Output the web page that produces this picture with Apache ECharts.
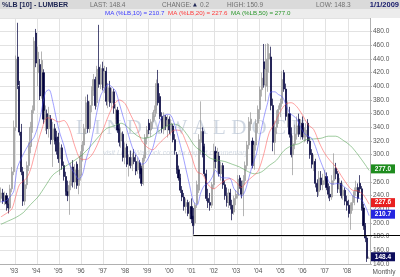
<!DOCTYPE html>
<html><head><meta charset="utf-8">
<script src="https://cdn.jsdelivr.net/npm/echarts@6/dist/echarts.min.js"></script>
<style>html,body{margin:0;padding:0;background:#fff}#c{width:400px;height:277px}</style>
</head><body><div id="c"></div>
<script>
// ---- categories: monthly, Jun 1992 .. Jan 2009 ----
const startYear = 1992, startMonth = 6, monthCount = 200;
const categories = [];
for (let k = 0; k < monthCount; k++) {
  const m0 = startMonth - 1 + k;
  categories.push((startYear + Math.floor(m0 / 12)) + '-' + String(m0 % 12 + 1).padStart(2, '0'));
}

// ---- monthly OHLC ----
const open = [
236,244,232,240,228,222,250,275,340,443,
400,333,275,232,256,284,312,340,365,478,
420,432,386,420,352,360,338,352,322,338,
325,326,294,310,284,268,246,240,255,282,
260,286,255,270,298,314,338,378,338,372,
394,410,376,428,403,426,398,422,378,398,
376,392,352,365,338,320,330,296,312,286,
296,284,296,290,278,288,280,258,295,325,
346,336,348,356,365,404,385,356,336,355,
342,352,334,342,322,300,278,266,248,238,
224,230,214,224,210,200,228,248,318,334,
312,272,236,230,226,256,305,290,298,272,
284,256,240,230,244,226,216,236,240,266,
254,242,262,284,314,345,320,284,314,346,
366,395,436,402,400,440,443,372,318,340,
356,366,375,420,396,356,360,330,300,316,
330,352,330,346,326,326,346,320,302,286,
290,258,246,266,256,262,268,252,242,238,
262,280,272,250,258,240,248,232,226,214,
226,230,246,252,258,250,222,196,178,148.3];
const high = [
252,250,246,244,236,256,282,350,445,493,
408,345,282,262,290,318,348,372,472,484,
458,440,451,425,372,366,370,358,348,345,
335,332,318,315,290,275,262,262,288,292,
286,290,278,305,320,345,385,388,378,400,
418,414,430,490,432,436,430,428,405,408,
398,396,374,370,345,340,334,318,316,300,
306,302,308,300,296,292,284,300,330,342,
352,352,362,372,410,424,390,362,362,358,
358,356,352,345,330,304,284,272,254,244,
236,234,232,236,222,230,262,330,378,340,
316,278,250,244,260,316,312,310,304,290,
288,262,252,250,250,234,240,248,270,270,
262,270,290,320,355,362,325,320,352,372,
400,420,462,462,463,462,458,382,350,365,
372,382,422,424,404,378,370,340,328,344,
356,360,352,356,340,346,352,326,308,300,
294,264,276,276,272,278,274,258,254,270,
302,288,276,266,262,258,252,240,234,230,
240,252,262,258,270,254,228,200,182,150.9];
const low = [
230,228,226,218,214,220,245,270,335,396,
328,270,225,226,250,276,302,332,360,428,
400,380,382,345,335,330,325,315,282,315,
300,288,270,278,262,240,232,212,248,252,
250,250,242,262,290,305,330,332,332,362,
386,366,370,398,396,394,390,372,368,370,
368,360,345,332,312,310,290,286,282,268,
280,276,286,270,272,265,254,255,290,315,
330,326,338,350,360,372,352,332,330,336,
325,330,328,318,300,272,262,244,232,218,
214,210,206,200,183,196,222,244,300,296,
268,232,222,218,222,250,280,274,268,262,
250,234,224,222,220,204,212,226,236,250,
236,210,256,278,308,335,280,278,306,332,
352,385,398,378,392,420,365,305,300,330,
345,355,370,392,350,340,325,296,270,308,
322,326,322,322,318,320,316,294,280,276,
252,238,240,248,248,256,248,236,232,234,
256,264,244,244,236,234,226,218,208,190,
218,226,240,230,244,218,190,172,143,148.3];
const close = [
244,232,240,228,222,250,275,340,440,402,
333,275,232,256,284,312,340,365,466,434,
450,386,438,352,364,338,358,322,338,320,
305,294,310,284,268,246,240,255,282,260,
278,255,270,298,314,338,376,338,372,394,
410,372,425,403,426,398,422,378,398,376,
392,368,366,336,318,332,296,310,286,296,
284,296,290,276,290,272,258,295,325,336,
336,348,356,365,404,376,356,338,358,342,
350,336,346,322,306,278,266,248,238,224,
230,214,224,206,196,226,256,322,334,300,
272,236,230,226,256,305,290,302,272,284,
256,240,230,244,226,214,236,242,264,254,
242,262,284,314,348,352,284,314,346,366,
395,412,402,425,440,448,372,318,340,356,
366,375,410,396,356,360,330,300,316,330,
342,330,340,326,332,336,320,300,286,290,
258,246,266,256,262,268,252,242,238,262,
280,272,250,258,240,248,232,226,214,226,
230,246,252,236,250,222,196,178,148.2,148.4];

// ---- moving averages ----
const ma10 = [['1992-06',231],['1992-09',233],['1992-12',242],['1993-01',247],['1993-02',266],['1993-03',282],['1993-06',300],['1993-09',315],['1993-12',326],['1994-03',352],['1994-06',391],['1994-08',395],['1994-10',378],['1994-12',352],['1995-02',330],['1995-04',314],['1995-06',293],['1995-08',280],['1995-10',272],['1995-12',264],['1996-02',270],['1996-04',293],['1996-06',310],['1996-08',336],['1996-10',364],['1996-12',387],['1997-02',396],['1997-04',403],['1997-06',399],['1997-08',393],['1997-10',375],['1997-12',356],['1998-02',338],['1998-04',319],['1998-06',304],['1998-08',296],['1998-10',286],['1998-12',288],['1999-02',297],['1999-04',309],['1999-06',330],['1999-08',350],['1999-10',357],['1999-12',359],['2000-02',357],['2000-04',343],['2000-06',324],['2000-08',303],['2000-10',279],['2000-12',255],['2001-02',232],['2001-04',226],['2001-06',244],['2001-08',255],['2001-10',258],['2001-12',266],['2002-02',277],['2002-04',269],['2002-06',266],['2002-08',266],['2002-10',265],['2002-12',250],['2003-02',244],['2003-04',239],['2003-06',247],['2003-08',266],['2003-10',285],['2003-12',300],['2004-02',327],['2004-04',353],['2004-06',374],['2004-08',392],['2004-10',392],['2004-12',388],['2005-02',385],['2005-04',374],['2005-06',361],['2005-08',357],['2005-10',352],['2005-12',340],['2006-02',331],['2006-04',327],['2006-06',324],['2006-08',312],['2006-10',296],['2006-12',282],['2007-02',268],['2007-04',258],['2007-06',257],['2007-08',258],['2007-10',256],['2007-12',252],['2008-02',248],['2008-04',240],['2008-06',237],['2008-08',236],['2008-10',230],['2008-12',218],['2009-01',210.7]];
const ma20 = [['1992-06',209],['1992-10',216],['1992-12',221],['1993-02',239],['1993-04',256],['1993-06',261],['1993-08',266],['1993-10',278],['1993-12',298],['1994-01',308],['1994-04',336],['1994-07',354],['1994-10',352],['1995-01',348],['1995-04',350],['1995-07',338],['1995-10',312],['1996-01',294],['1996-04',293],['1996-07',299],['1996-10',314],['1997-01',335],['1997-04',356],['1997-07',373],['1997-10',380],['1998-01',375],['1998-04',359],['1998-07',342],['1998-10',321],['1999-01',311],['1999-04',307],['1999-07',315],['1999-10',323],['2000-01',330],['2000-04',336],['2000-07',335],['2000-10',319],['2001-01',298],['2001-04',275],['2001-07',271],['2001-10',256],['2002-01',250],['2002-04',256],['2002-07',262],['2002-10',265],['2003-01',260],['2003-04',252],['2003-07',261],['2003-10',268],['2004-01',276],['2004-04',300],['2004-07',332],['2004-10',346],['2005-01',363],['2005-04',374],['2005-07',376],['2005-10',370],['2006-01',358],['2006-04',344],['2006-07',337],['2006-10',318],['2007-01',302],['2007-04',291],['2007-07',282],['2007-10',269],['2008-01',257],['2008-04',248],['2008-07',247],['2008-10',241],['2009-01',227.6]];
const ma50 = [['1992-06',198],['1992-10',203],['1993-02',208],['1993-06',215],['1993-10',227],['1994-02',238],['1994-06',254],['1994-10',270],['1995-02',278],['1995-06',285],['1995-10',292],['1996-02',300],['1996-06',311],['1996-11',327],['1997-03',338],['1997-07',342],['1997-11',346],['1998-03',339],['1998-07',329],['1998-11',324],['1999-03',326],['1999-07',334],['1999-11',341],['2000-03',345],['2000-07',341],['2000-11',328],['2001-03',312],['2001-07',304],['2001-11',295],['2002-03',292],['2002-07',290],['2002-11',286],['2003-03',282],['2003-07',276],['2003-11',272],['2004-03',275],['2004-07',284],['2004-11',292],['2005-03',306],['2005-07',313],['2005-11',316],['2006-03',322],['2006-07',323],['2006-11',324],['2007-03',327],['2007-07',327],['2007-11',321],['2008-03',313],['2008-07',300],['2008-11',285],['2009-01',277]];

// ---- y-axis ticks, header texts, tags ----
const yMin = 140, yMax = 500, yStep = 20;
const yearLabelMonth = '01';
const supportLevel = 182, supportStart = '2001-02';
const headerTitle = '%LB [10] - LUMBER';
const headerStats = { last: '148.4', change: '0.2', high: '150.9', low: '148.3', date: '1/1/2009' };
const maLegend = [['MA (%LB,10) = 210.7', '#3a3aff'], ['MA (%LB,20) = 227.6', '#ff3a3a'], ['MA (%LB,50) = 277.0', '#2a962a']];
const valueTags = [[277.0, '#1e8c1e'], [227.6, '#e82020'], [210.7, '#2424e0'], [148.4, '#0c0c5c']];

const chart = echarts.init(document.getElementById('c'), null, { renderer: 'canvas' });
const ohlc = categories.map((c, i) => [open[i], close[i], low[i], high[i]]);
const lastIdx = categories.length - 1;
const FONT = 'Liberation Sans';

chart.setOption({
  animation: false,
  textStyle: { fontFamily: FONT },
  grid: { left: 0, right: 30, top: 18, bottom: 13 },
  xAxis: {
    type: 'category', data: categories, boundaryGap: true,
    axisLine: { lineStyle: { color: '#b0b0b0' } },
    axisTick: { show: false },
    axisLabel: {
      interval: (i, v) => v.endsWith('-' + yearLabelMonth) && i !== lastIdx,
      formatter: v => "'" + v.slice(2, 4), fontSize: 6.5, color: '#555', margin: 4, fontFamily: FONT
    },
    splitLine: { show: true, interval: (i, v) => v.endsWith('-02'), lineStyle: { color: '#e2e2e2', width: 1 } }
  },
  yAxis: {
    type: 'value', position: 'right', min: yMin, max: yMax, interval: yStep,
    axisLine: { show: true, lineStyle: { color: '#b0b0b0' } },
    axisTick: { show: true, length: 2, lineStyle: { color: '#b0b0b0' } },
    axisLabel: { formatter: v => v.toFixed(1), fontSize: 6.5, color: '#555', margin: 3, showMaxLabel: false, fontFamily: FONT },
    splitLine: { lineStyle: { color: '#e2e2e2', width: 1 } }
  },
  series: [
    { type: 'candlestick', data: ohlc, barWidth: '88%', z: 3,
      itemStyle: { color: '#bcbcbc', color0: '#00003c', borderColor: '#959595', borderColor0: '#00003c', borderWidth: 0.7 } },
    { type: 'line', data: ma50, smooth: 0.3, symbol: 'none', z: 4, lineStyle: { color: '#4a9e4a', width: 0.6, opacity: 0.9 } },
    { type: 'line', data: ma20, smooth: 0.3, symbol: 'none', z: 4, lineStyle: { color: '#ff5050', width: 0.6, opacity: 0.9 } },
    { type: 'line', data: ma10, smooth: 0.3, symbol: 'none', z: 4, lineStyle: { color: '#5050ff', width: 0.6, opacity: 0.9 } }
  ]
});

const supX = chart.convertToPixel({ xAxisIndex: 0 }, supportStart);
const supY = Math.round(chart.convertToPixel({ yAxisIndex: 0 }, supportLevel)) + 0.5;

const g = [];
// watermark
g.push({ type: 'text', z: 1, left: 76, top: 118, style: { text: 'L I N D A W A L D O C K', font: '21px "Liberation Serif"', fill: 'rgba(160,176,198,0.5)' } });
g.push({ type: 'text', z: 1, left: 103, top: 150, style: { text: 'visit LindaWaldock.com for expert commentary', font: 'italic 7px "Liberation Sans"', fill: 'rgba(170,184,204,0.5)' } });
// support line
g.push({ type: 'line', z: 50, shape: { x1: supX, y1: supY, x2: 400, y2: supY }, style: { stroke: '#000', lineWidth: 1 } });
// header bands
g.push({ type: 'rect', z: 90, shape: { x: 0, y: 0, width: 400, height: 9 }, style: { fill: '#dadada' } });
g.push({ type: 'rect', z: 90, shape: { x: 0, y: 9, width: 400, height: 9 }, style: { fill: '#ececec' } });
const T = (x, y, text, font, fill, align) => ({ type: 'text', z: 99, x: x, y: y,
  style: { text: text, font: font, fill: fill, textAlign: align || 'left', textVerticalAlign: 'middle' } });
g.push(T(2, 5, headerTitle, 'bold 7px "Liberation Sans"', '#1c2452'));
g.push(T(90, 5, 'LAST: ' + headerStats.last, '6.5px "Liberation Sans"', '#707070'));
g.push(T(162, 5, 'CHANGE:', '6.5px "Liberation Sans"', '#707070'));
g.push(T(193, 4.5, '\u25B2', '5px "DejaVu Sans"', '#1c2452'));
g.push(T(200, 5, headerStats.change, '6.5px "Liberation Sans"', '#707070'));
g.push(T(227, 5, 'HIGH: ' + headerStats.high, '6.5px "Liberation Sans"', '#707070'));
g.push(T(316, 5, 'LOW: ' + headerStats.low, '6.5px "Liberation Sans"', '#707070'));
g.push(T(399, 5, headerStats.date, 'bold 7.5px "Liberation Sans"', '#161a6a', 'right'));
const legendX = [105, 168, 231];
maLegend.forEach((m, k) => g.push(T(legendX[k], 13.5, m[0], '6.2px "Liberation Sans"', m[1])));
// right value tags
valueTags.forEach(t => {
  const y = chart.convertToPixel({ yAxisIndex: 0 }, t[0]) - 1.5;
  g.push({ type: 'rect', z: 96, shape: { x: 371, y: y - 4.5, width: 24, height: 9 }, style: { fill: t[1] } });
  g.push(T(383, y, t[0].toFixed(1), 'bold 6.5px "Liberation Sans"', '#fff', 'center'));
});
// period label
g.push(T(384, 272, 'Monthly', '6.5px "Liberation Sans"', '#555', 'center'));

chart.setOption({ graphic: g });
</script>
</body></html>
